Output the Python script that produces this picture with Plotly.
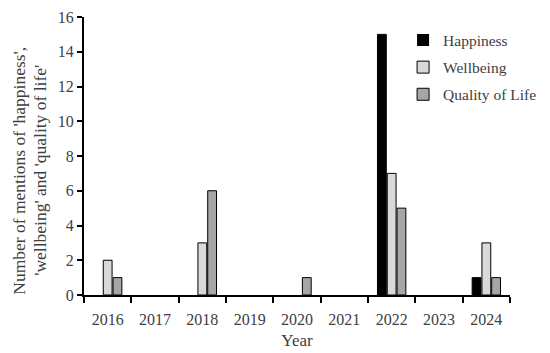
import plotly.graph_objects as go

years = ["2016", "2017", "2018", "2019", "2020", "2021", "2022", "2023", "2024"]
happiness = [0, 0, 0, 0, 0, 0, 15, 0, 1]
wellbeing = [2, 0, 3, 0, 0, 0, 7, 0, 3]
quality = [1, 0, 6, 0, 1, 0, 5, 0, 1]
y_title_lines = ["Number of mentions of 'happiness',", "'wellbeing' and 'quality of life'"]

font_family = "Liberation Serif, DejaVu Serif, serif"
txt = "#404040"


def outline(vals):
    return [1 if v > 0 else 0 for v in vals]


fig = go.Figure()
fig.add_bar(x=years, y=happiness, name="Happiness", legendgroup="h",
            marker=dict(color="#000000", line=dict(color="#000000", width=outline(happiness))))
fig.add_bar(x=years, y=wellbeing, name="Wellbeing", legendgroup="w",
            marker=dict(color="#d9d9d9", line=dict(color="#000000", width=outline(wellbeing))))
fig.add_bar(x=years, y=quality, name="Quality of Life", legendgroup="q",
            marker=dict(color="#a6a6a6", line=dict(color="#000000", width=outline(quality))))

fig.update_layout(
    width=550, height=353,
    margin=dict(l=76, r=48, t=9, b=66),
    paper_bgcolor="white", plot_bgcolor="white",
    barmode="group", bargap=0.38, bargroupgap=0.1,
    font=dict(family=font_family, size=16, color=txt),
    showlegend=True,
    legend=dict(x=0.749, y=0.977, xanchor="left", yanchor="top",
                font=dict(family=font_family, size=15.5, color=txt),
                bgcolor="rgba(0,0,0,0)", tracegroupgap=4, itemwidth=30),
)
for xpos, line in zip([11, 32], y_title_lines):
    fig.add_annotation(
        text=line, xref="paper", yref="paper",
        x=(xpos - 76) / 426, y=0.447,
        xanchor="center", yanchor="middle", textangle=-90, showarrow=False,
        font=dict(family=font_family, size=17.5, color=txt),
    )
fig.update_xaxes(
    type="category", showline=True, linecolor="black", linewidth=2,
    ticks="outside", tickson="boundaries", ticklen=6, tickcolor="black", tickwidth=2,
    showgrid=False, automargin=False, ticklabelstandoff=9,
    title=dict(text="Year", font=dict(size=17, color=txt), standoff=7),
    tickfont=dict(size=16, color=txt),
)
fig.update_yaxes(
    range=[0, 16], dtick=2, showline=True, linecolor="black", linewidth=2,
    ticks="outside", ticklen=5, tickcolor="black", tickwidth=2,
    showgrid=False, zeroline=False, automargin=False, ticklabeloverflow="allow",
    tickfont=dict(size=16, color=txt),
)

fig.write_html("out.html")
